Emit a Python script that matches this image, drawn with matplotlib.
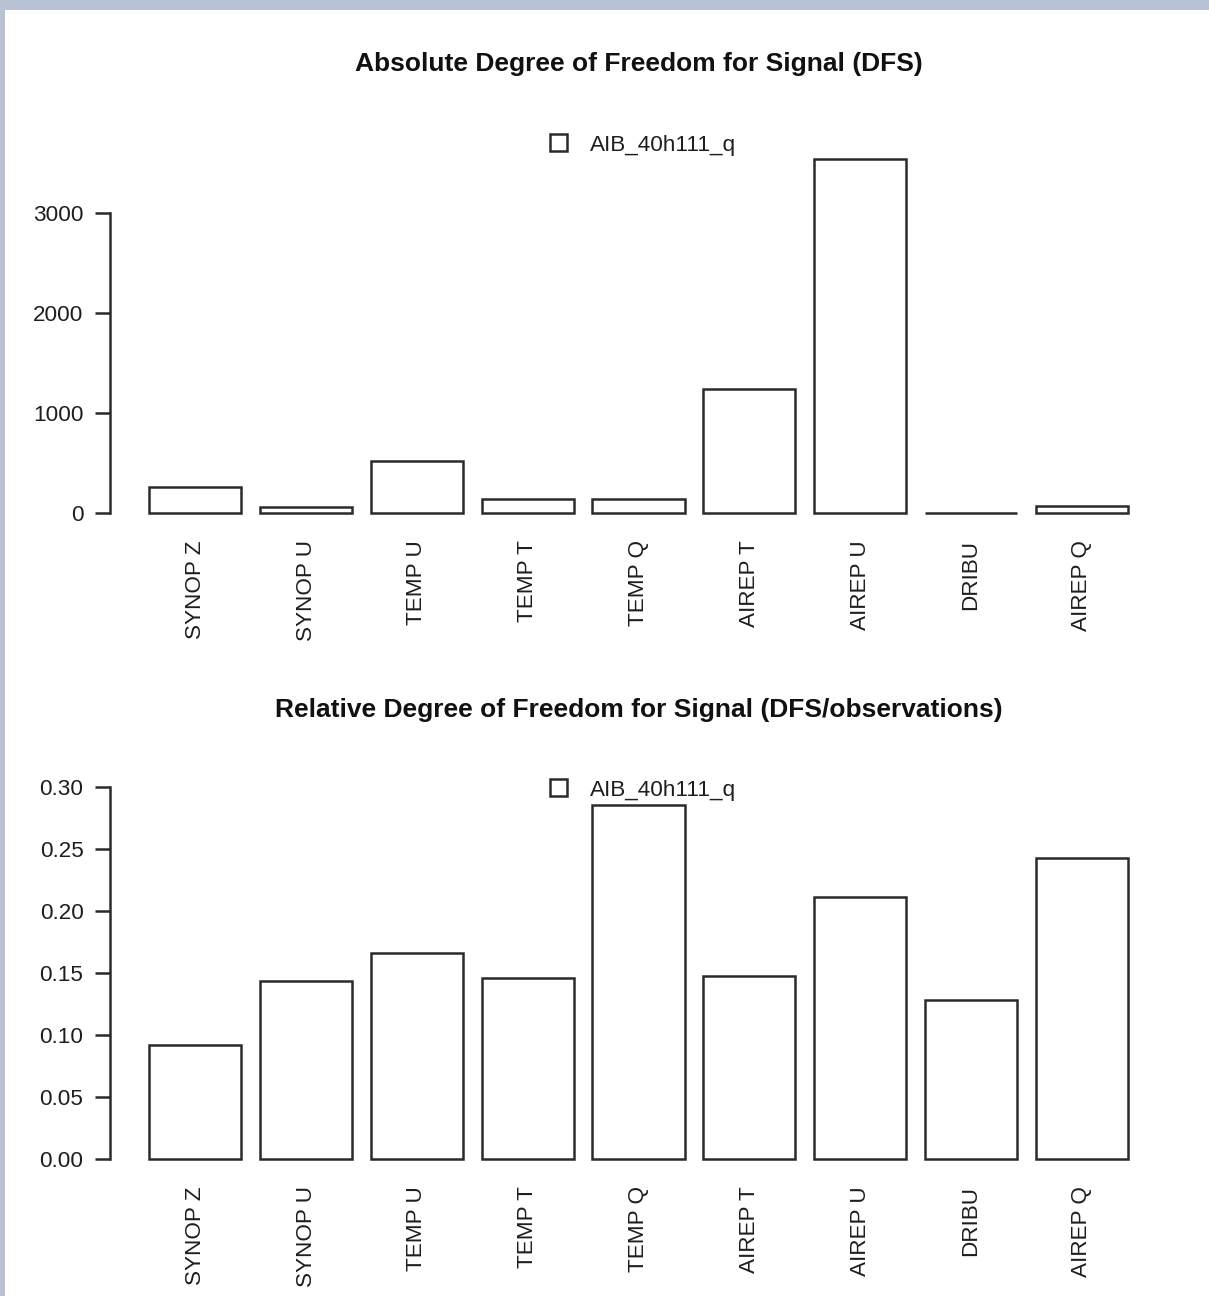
import matplotlib
matplotlib.use("Agg")
import matplotlib.pyplot as plt
from matplotlib.patches import Rectangle, Patch

categories = ["SYNOP Z", "SYNOP U", "TEMP U", "TEMP T", "TEMP Q",
              "AIREP T", "AIREP U", "DRIBU", "AIREP Q"]
abs_dfs = [260, 60, 520, 140, 140, 1240, 3540, 5, 70]
rel_dfs = [0.092, 0.1435, 0.166, 0.146, 0.2855, 0.1476, 0.2113, 0.128, 0.2427]
series_name = "AIB_40h111_q"
title_abs = "Absolute Degree of Freedom for Signal (DFS)"
title_rel = "Relative Degree of Freedom for Signal (DFS/observations)"
abs_ticks = [0, 1000, 2000, 3000]
rel_ticks = [0.00, 0.05, 0.10, 0.15, 0.20, 0.25, 0.30]

W, H = 1209, 1296
DPI = 100
plt.rcParams['font.family'] = ['Liberation Sans', 'DejaVu Sans']
FS = 16.2
EDGE = '#2a2a2a'
TXT = '#1e1e1e'

fig = plt.figure(figsize=(W / DPI, H / DPI), dpi=DPI, facecolor='#b8c2d4')
# white page panel
fig.patches.append(Rectangle((5 / W, 0), 1 - 5 / W, 1 - 10 / H,
                             transform=fig.transFigure, facecolor='white',
                             edgecolor='none', zorder=-10))


def pbox(left, top, right, bottom):
    return [left / W, 1 - bottom / H, (right - left) / W, (bottom - top) / H]


def make_panel(values, ticks, ticklabels, ylim, box, title, title_y, legend_y):
    ax = fig.add_axes(pbox(*box))
    ax.set_facecolor('none')
    n = len(values)
    centers = [0.7 + 1.2 * i for i in range(n)]
    ax.bar(centers, values, width=1.0, facecolor='white', edgecolor=EDGE,
           linewidth=1.8)
    ax.set_xlim(-0.224, 11.224)
    ax.set_ylim(*ylim)
    for s in ['top', 'right', 'bottom']:
        ax.spines[s].set_visible(False)
    ax.spines['left'].set_bounds(ticks[0], ticks[-1])
    ax.spines['left'].set_linewidth(1.8)
    ax.spines['left'].set_color(EDGE)
    ax.set_yticks(ticks)
    ax.set_yticklabels(ticklabels)
    ax.tick_params(axis='y', length=10.5, width=1.8, color=EDGE, pad=8.5,
                   labelsize=FS, labelcolor=TXT)
    ax.set_xticks(centers)
    ax.set_xticklabels(categories, rotation=90, ha='center', va='top')
    ax.tick_params(axis='x', length=0, pad=9.5, labelsize=FS, labelcolor=TXT)
    fig.text(638.5 / W, 1 - title_y / H, title, ha='center', va='center',
             fontsize=FS * 1.175, fontweight='bold', color='#111111')
    handle = Patch(facecolor='white', edgecolor=EDGE, linewidth=1.8,
                   label=series_name)
    fig.legend(handles=[handle], loc='center',
               bbox_to_anchor=(643 / W, 1 - legend_y / H),
               frameon=False, fontsize=FS, handlelength=0.75,
               handleheight=0.75, handletextpad=1.0, borderpad=0,
               labelcolor=TXT)
    return ax


make_panel(abs_dfs, abs_ticks, [str(t) for t in abs_ticks],
           ((513 - 527) * 10, (513 - 135) * 10),
           (110, 135, 1167, 527), title_abs, 64, 145)
make_panel(rel_dfs, rel_ticks, ["%.2f" % t for t in rel_ticks],
           ((1159 - 1173) / 1240, (1159 - 780) / 1240),
           (110, 780, 1167, 1173), title_rel, 710, 790)

fig.savefig("out.png", dpi=DPI, facecolor=fig.get_facecolor())
